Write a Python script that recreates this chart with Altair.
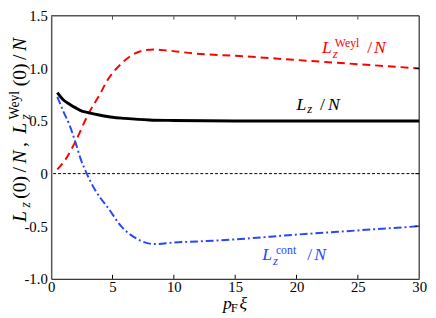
import altair as alt
import pandas as pd

FONT = "Liberation Serif, Times New Roman, serif"

# ---- data ----
lz_x = [0.5, 1, 1.5, 2, 2.5, 3, 4, 5, 6, 8, 10, 15, 20, 30]
lz_y = [0.77, 0.70, 0.66, 0.625, 0.595, 0.58, 0.555, 0.535, 0.525, 0.51, 0.505, 0.50, 0.50, 0.50]

weyl_x = [0.5, 1.2, 2, 3, 4, 4.6, 5.5, 6.5, 7.5, 8.4, 9.5, 11.8, 15, 20, 25, 30]
weyl_y = [0.04, 0.14, 0.31, 0.56, 0.76, 0.89, 1.02, 1.12, 1.17, 1.18, 1.17, 1.14, 1.12, 1.08, 1.04, 1.00]

cont_x = [0.5, 1, 1.5, 2, 2.4, 2.9, 3.5, 4, 4.6, 5.7, 7, 8.4, 10, 12, 15, 20, 25, 30]
cont_y = [0.73, 0.59, 0.46, 0.29, 0.14, 0.0, -0.14, -0.23, -0.32, -0.50, -0.62, -0.67,
          -0.655, -0.645, -0.625, -0.58, -0.54, -0.50]

x_ticks = [0, 5, 10, 15, 20, 25, 30]
y_ticks = [-1.0, -0.5, 0, 0.5, 1.0, 1.5]
inner_x_ticks = [5, 10, 15, 20, 25]
inner_y_ticks = [-0.5, 0, 0.5, 1.0]

label_x = [22.08, 20.0, 17.2]
label_y = [1.143, 0.603, -0.826]
label_sup = ["Weyl", "", "cont"]

RED = "#ff0000"
BLUE = "#2846ff"
BLACK = "#000000"
FRAME = "#555555"

W, H = 375, 268

xs = alt.Scale(domain=[0, 30], nice=False, zero=False)
ys = alt.Scale(domain=[-1, 1.5], nice=False, zero=False)

xaxis = alt.Axis(values=x_ticks, title=None, labelFont=FONT, labelFontSize=15,
                 labelColor="black", tickSize=0, domainColor="black", domainWidth=1,
                 grid=False, labelPadding=1, labelFlush=False, format="d")
yaxis = alt.Axis(values=y_ticks, title=None, labelFont=FONT, labelFontSize=15,
                 labelColor="black", tickSize=0, domainColor=FRAME, domainWidth=1.5,
                 grid=False, labelPadding=4, labelFlush=False,
                 labelExpr="(datum.value < 0 ? '-' : '') + (datum.value == 0 ? '0' : format(abs(datum.value), '.1f'))")


def X(field="x"):
    return alt.X(f"{field}:Q", scale=xs, axis=xaxis)


def Y(field="y"):
    return alt.Y(f"{field}:Q", scale=ys, axis=yaxis)


def line(xv, yv, color, width, dash=None):
    df = pd.DataFrame({"x": xv, "y": yv})
    kw = dict(color=color, strokeWidth=width, interpolate="monotone", clip=True)
    if dash:
        kw["strokeDash"] = dash
    return alt.Chart(df).mark_line(**kw).encode(x=X(), y=Y())


layers = []

# zero reference line
layers.append(alt.Chart(pd.DataFrame({"y": [0]})).mark_rule(
    color="black", strokeWidth=1, strokeDash=[3, 2]).encode(y=Y()))

layers.append(line(weyl_x, weyl_y, RED, 2, [8, 5]))
layers.append(line(cont_x, cont_y, BLUE, 2, [8, 3, 2, 3]))
layers.append(line(lz_x, lz_y, BLACK, 3))

# frame (top / right)
layers.append(alt.Chart(pd.DataFrame({"a": [0]})).mark_rule(color=FRAME, strokeWidth=1.5).encode(
    x=alt.value(0), x2=alt.value(W), y=alt.value(0)))
layers.append(alt.Chart(pd.DataFrame({"a": [0]})).mark_rule(color="black", strokeWidth=1).encode(
    x=alt.value(W), y=alt.value(0), y2=alt.value(H)))

# inward ticks
xt = pd.DataFrame({"x": inner_x_ticks})
layers.append(alt.Chart(xt).mark_rule(color="black", strokeWidth=1).encode(
    x=X(), y=alt.value(H), y2=alt.value(H - 4)))
layers.append(alt.Chart(xt).mark_rule(color=FRAME, strokeWidth=1).encode(
    x=X(), y=alt.value(0), y2=alt.value(4)))
yt = pd.DataFrame({"y": inner_y_ticks})
layers.append(alt.Chart(yt).mark_rule(color="black", strokeWidth=1).encode(
    y=Y(), x=alt.value(W), x2=alt.value(W - 4)))


def piece(text, xv, yv, dx, dy, size, italic, color):
    return alt.Chart(pd.DataFrame({"x": [xv], "y": [yv]})).mark_text(
        text=text, align="left", baseline="alphabetic", font=FONT,
        fontStyle="italic" if italic else "normal", fontSize=size, color=color,
        dx=dx, dy=dy).encode(x=X(), y=Y())


# series labels
lx, ly = label_x[0], label_y[0]
layers += [
    piece("L", lx, ly, 0, 0, 18, True, RED),
    piece("z", lx, ly, 11, 5, 13, True, RED),
    piece(label_sup[0], lx, ly, 13, -6, 12, False, RED),
    piece("/", lx, ly, 46, 0, 18, False, RED),
    piece("N", lx, ly, 53, 0, 18, True, RED),
]
lx, ly = label_x[1], label_y[1]
layers += [
    piece("L", lx, ly, 0, 0, 18, True, BLACK),
    piece("z", lx, ly, 11, 3, 13, True, BLACK),
    piece("/", lx, ly, 24, 0, 18, False, BLACK),
    piece("N", lx, ly, 32, 0, 18, True, BLACK),
]
lx, ly = label_x[2], label_y[2]
layers += [
    piece("L", lx, ly, 0, 0, 18, True, BLUE),
    piece("z", lx, ly, 11, 5, 13, True, BLUE),
    piece(label_sup[2], lx, ly, 14, -7, 12, False, BLUE),
    piece("/", lx, ly, 46, 0, 18, False, BLUE),
    piece("N", lx, ly, 53, 0, 18, True, BLUE),
]


def fixed(text, x, y, size, italic, angle=0):
    kw = dict(text=text, align="left", baseline="alphabetic", font=FONT,
              fontStyle="italic" if italic else "normal", fontSize=size, color="black")
    if angle:
        kw["angle"] = angle
    return alt.Chart(pd.DataFrame({"a": [0]})).mark_text(**kw).encode(
        x=alt.value(x), y=alt.value(y))


# x-axis title  p_F xi
layers += [
    fixed("p", 175, 299, 18, True),
    fixed("F", 183, 302, 13, False),
    fixed("ξ", 192, 299, 18, True),
]

# y-axis title  L_z(0)/N, L_z^Weyl(0)/N  (rotated)
BX = -26
S, s = 20, 14
G = 3.5
adv = {"L": 0.556, "z": 0.389, "(0)": 1.166, "/": 0.278, "N": 0.667, ",": 0.5, "Weyl": 2.166}
seq = [("L", True, S, 0), ("z", True, s, 4), ("(0)", False, S, 0), ("/", False, S, 0),
       ("N", True, S, 0), (",", False, S, 0), ("L", True, S, 0), ("Weyl", False, s, -7),
       ("(0)", False, S, 0), ("/", False, S, 0), ("N", True, S, 0)]
pos = 210.0
for t, it, sz, sh in seq:
    layers.append(fixed(t, BX + sh, pos, sz, it, angle=270))
    if t == "Weyl":
        layers.append(fixed("z", BX + 4, pos, s, True, angle=270))
    pos -= adv[t] * sz + G

chart = alt.layer(*layers).properties(
    width=W, height=H,
    autosize=alt.AutoSizeParams(type="none"),
    padding={"left": 44, "top": 5, "right": 9, "bottom": 37},
).configure_view(stroke=None)

chart.save("out.html", embed_options={"renderer": "svg", "actions": False})
